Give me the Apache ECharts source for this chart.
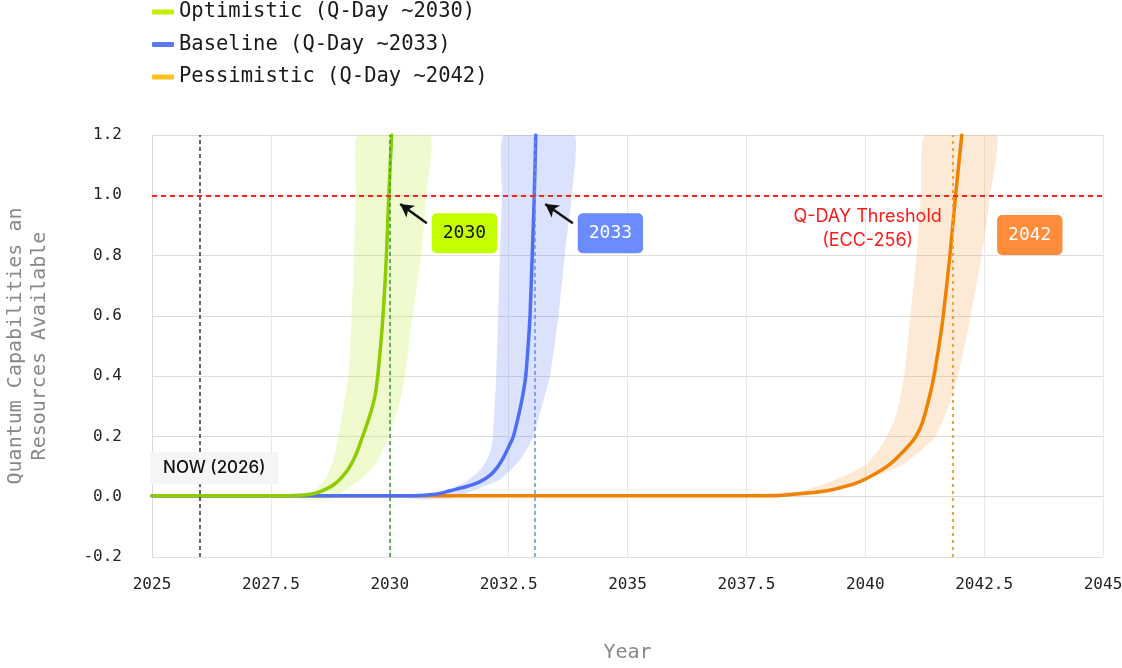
<!DOCTYPE html>
<html>
<head>
<meta charset="utf-8">
<title>Q-Day scenarios</title>
<script src="https://cdn.jsdelivr.net/npm/echarts@6/dist/echarts.min.js"></script>
<style>
  html, body { margin: 0; padding: 0; background: #fff; }
  #main { width: 1122px; height: 668px; }
</style>
</head>
<body>
<div id="main"></div>
<script>
// scenario curves, [year, capability]
var optimisticLine = [[2025, 0.003], [2027.6, 0.003], [2028.2, 0.006], [2028.45, 0.012], [2028.67, 0.026], [2028.85, 0.043], [2028.99, 0.064], [2029.12, 0.09], [2029.23, 0.12], [2029.34, 0.16], [2029.43, 0.2], [2029.53, 0.245], [2029.62, 0.29], [2029.69, 0.335], [2029.74, 0.39], [2029.79, 0.47], [2029.84, 0.56], [2029.89, 0.68], [2029.93, 0.8], [2029.98, 1.0], [2030.04, 1.2]];
var optimisticUpper = [[2025, 0.006], [2027.8, 0.007], [2028.2, 0.012], [2028.45, 0.025], [2028.67, 0.064], [2028.81, 0.12], [2028.92, 0.2], [2029.03, 0.3], [2029.13, 0.4], [2029.2, 0.6], [2029.25, 0.8], [2029.29, 1.0], [2029.33, 1.2]];
var optimisticLower = [[2025, 0.0], [2027.8, -0.004], [2028.4, -0.01], [2028.8, -0.006], [2029.1, 0.026], [2029.44, 0.064], [2029.76, 0.12], [2029.97, 0.2], [2030.19, 0.3], [2030.32, 0.4], [2030.48, 0.6], [2030.66, 0.8], [2030.77, 1.0], [2030.85, 1.2]];

var baselineLine = [[2025, 0.003], [2030.5, 0.003], [2031.0, 0.009], [2031.27, 0.02], [2031.6, 0.033], [2031.9, 0.05], [2032.1, 0.07], [2032.25, 0.095], [2032.39, 0.13], [2032.5, 0.165], [2032.6, 0.2], [2032.7, 0.263], [2032.79, 0.33], [2032.86, 0.4], [2032.91, 0.5], [2032.95, 0.6], [2033.0, 0.816], [2033.04, 1.0], [2033.07, 1.2]];
var baselineUpper = [[2025, 0.006], [2030.0, 0.006], [2030.6, 0.009], [2031.0, 0.015], [2031.27, 0.026], [2031.6, 0.05], [2031.85, 0.08], [2032.0, 0.11], [2032.12, 0.15], [2032.17, 0.2], [2032.24, 0.4], [2032.28, 0.6], [2032.32, 0.816], [2032.36, 1.0], [2032.39, 1.2]];
var baselineLower = [[2025, 0.0], [2030.0, -0.003], [2030.6, -0.008], [2031.3, -0.006], [2031.75, 0.02], [2032.3, 0.055], [2032.53, 0.086], [2032.78, 0.13], [2033.02, 0.2], [2033.2, 0.3], [2033.37, 0.4], [2033.55, 0.6], [2033.69, 0.816], [2033.83, 1.0], [2033.88, 1.2]];

var pessimisticLine = [[2025, 0.003], [2038.0, 0.003], [2038.5, 0.008], [2039.2, 0.02], [2039.6, 0.035], [2039.89, 0.05], [2040.2, 0.075], [2040.52, 0.108], [2040.8, 0.15], [2041.0, 0.185], [2041.1, 0.21], [2041.2, 0.245], [2041.3, 0.3], [2041.42, 0.38], [2041.55, 0.5], [2041.64, 0.6], [2041.78, 0.8], [2041.9, 1.0], [2042.03, 1.2]];
var pessimisticUpper = [[2025, 0.006], [2037.0, 0.006], [2037.8, 0.01], [2038.69, 0.02], [2039.32, 0.053], [2039.7, 0.08], [2040.03, 0.108], [2040.25, 0.15], [2040.45, 0.197], [2040.66, 0.275], [2040.82, 0.4], [2040.95, 0.6], [2041.08, 0.8], [2041.17, 1.0], [2041.25, 1.2]];
var pessimisticLower = [[2025, 0.0], [2037.5, -0.002], [2038.5, 0.004], [2039.0, 0.012], [2039.5, 0.03], [2039.96, 0.053], [2040.4, 0.08], [2040.8, 0.108], [2041.15, 0.15], [2041.48, 0.2], [2041.75, 0.3], [2041.95, 0.4], [2042.22, 0.6], [2042.45, 0.8], [2042.63, 1.0], [2042.76, 1.2]];

var seriesNames = ['Optimistic (Q-Day ~2030)', 'Baseline (Q-Day ~2033)', 'Pessimistic (Q-Day ~2042)'];
var qdayYears = [2030, 2033.05, 2041.85];
var qdayLabels = ['2030', '2033', '2042'];
var nowYear = 2026;
var threshold = 1.0;

var MONO = "'DejaVu Sans Mono', monospace";
var SANS = "Inter, 'Noto Sans', sans-serif";

var myChart = echarts.init(document.getElementById('main'));

// filled band between an upper and a lower edge
function band(upper, lower, color) {
    return {
        type: 'custom',
        silent: true,
        clip: true,
        z: 1,
        data: [upper[0]],
        renderItem: function (params, api) {
            var pts = [];
            for (var i = 0; i < upper.length; i++) pts.push(api.coord(upper[i]));
            for (var j = lower.length - 1; j >= 0; j--) pts.push(api.coord(lower[j]));
            return { type: 'polygon', shape: { points: pts, smooth: 0.15 }, style: { fill: color } };
        }
    };
}

function curve(name, data, color) {
    return {
        name: name,
        type: 'line',
        data: data,
        z: 3,
        symbol: 'none',
        smooth: 0.2,
        lineStyle: { color: color, width: 3.5, cap: 'round', join: 'round' },
        itemStyle: { color: color }
    };
}

function box(coord, text, bg, fg) {
    return {
        coord: coord,
        symbol: 'circle',
        symbolSize: 1,
        itemStyle: { color: 'rgba(0,0,0,0)' },
        label: {
            show: true, position: 'inside', formatter: text,
            fontFamily: MONO, fontSize: 18, color: fg, lineHeight: 22,
            backgroundColor: bg, padding: [9, 11], borderRadius: 5
        }
    };
}

var orange = curve(seriesNames[2], pessimisticLine, '#ef8200');
orange.markLine = {
    silent: true,
    symbol: 'none',
    label: { show: false },
    data: [
        { xAxis: nowYear, lineStyle: { color: '#333', type: [4, 3], width: 1.5 } },
        { xAxis: qdayYears[0], lineStyle: { color: '#2e9e3e', type: [4, 3], width: 1.5 } },
        { xAxis: qdayYears[1], lineStyle: { color: '#6a8af5', type: [4, 3], width: 1.5 } },
        { xAxis: qdayYears[2], lineStyle: { color: '#f5a030', type: [3, 4], width: 2 } },
        { yAxis: threshold, lineStyle: { color: '#ff2020', type: [5, 4], width: 2 } }
    ]
};

var blue = curve(seriesNames[1], baselineLine, '#4d6ef5');
blue.markLine = {
    silent: true,
    symbol: ['none', 'arrow'],
    symbolSize: [11, 13],
    label: { show: false },
    lineStyle: { color: '#111', width: 2.5, type: 'solid' },
    data: [
        [{ coord: [2030.78, 0.907] }, { coord: [2030.22, 0.971] }],
        [{ coord: [2033.85, 0.907] }, { coord: [2033.27, 0.971] }]
    ]
};

var green = curve(seriesNames[0], optimisticLine, '#8ccc00');
green.markPoint = {
    silent: true,
    data: [
        box([2031.57, 0.874], qdayLabels[0], '#c4ff00', '#111'),
        box([2034.64, 0.874], qdayLabels[1], '#6a8cff', '#fff'),
        box([2043.46, 0.868], qdayLabels[2], '#ff8c3a', '#fff'),
        {
            coord: [2026.31, 0.0946],
            symbol: 'circle', symbolSize: 1, itemStyle: { color: 'rgba(0,0,0,0)' },
            label: {
                show: true, position: 'inside', formatter: 'NOW (2026)',
                fontFamily: SANS, fontSize: 17, fontWeight: 500, color: '#111', lineHeight: 20,
                backgroundColor: '#f4f5f7', padding: [6, 13]
            }
        },
        {
            coord: [2040.05, 0.889],
            symbol: 'circle', symbolSize: 1, itemStyle: { color: 'rgba(0,0,0,0)' },
            label: {
                show: true, position: 'inside', formatter: 'Q-DAY Threshold\n(ECC-256)',
                fontFamily: SANS, fontSize: 18, color: '#ff1a1a', lineHeight: 24, align: 'center'
            }
        }
    ]
};

var option = {
    animation: false,
    backgroundColor: '#fff',
    legend: {
        orient: 'vertical',
        left: 152,
        top: 1,
        padding: 0,
        itemGap: 10.5,
        itemWidth: 22,
        itemHeight: 5,
        icon: 'roundRect',
        textStyle: { fontFamily: MONO, fontSize: 20.5, color: '#1a1a1a', lineHeight: 22 },
        data: [
            { name: seriesNames[0], itemStyle: { color: '#c4f000' } },
            { name: seriesNames[1], itemStyle: { color: '#5a78f5' } },
            { name: seriesNames[2], itemStyle: { color: '#ffc21a' } }
        ]
    },
    grid: { left: 152, right: 19, top: 135, bottom: 111, outerBoundsMode: 'none' },
    xAxis: {
        type: 'value',
        min: 2025,
        max: 2045,
        interval: 2.5,
        name: 'Year',
        nameLocation: 'middle',
        nameGap: 86,
        nameTextStyle: { fontFamily: MONO, fontSize: 20, color: '#888' },
        axisLine: { show: true, lineStyle: { color: '#d9d9d9' } },
        axisTick: { show: false },
        axisLabel: {
            margin: 20, fontFamily: MONO, fontSize: 16, color: '#222',
            formatter: function (v) { return String(v); }
        },
        splitLine: { show: true, lineStyle: { color: '#e8e8e8' } }
    },
    yAxis: {
        type: 'value',
        min: -0.2,
        max: 1.2,
        interval: 0.2,
        name: 'Quantum Capabilities an\nResources Available',
        nameLocation: 'middle',
        nameGap: 100,
        nameTextStyle: { fontFamily: MONO, fontSize: 20, color: '#888', lineHeight: 24 },
        axisLine: { show: true, lineStyle: { color: '#d9d9d9' } },
        axisTick: { show: false },
        axisLabel: {
            margin: 30, fontFamily: MONO, fontSize: 16, color: '#222',
            formatter: function (v) { return v.toFixed(1); }
        },
        splitLine: { show: true, lineStyle: { color: '#dedede' } }
    },
    series: [
        band(pessimisticUpper, pessimisticLower, 'rgba(245,150,50,0.2)'),
        band(baselineUpper, baselineLower, 'rgba(77,110,245,0.2)'),
        band(optimisticUpper, optimisticLower, 'rgba(190,240,60,0.25)'),
        orange,
        blue,
        green
    ]
};

myChart.setOption(option);
</script>
</body>
</html>
